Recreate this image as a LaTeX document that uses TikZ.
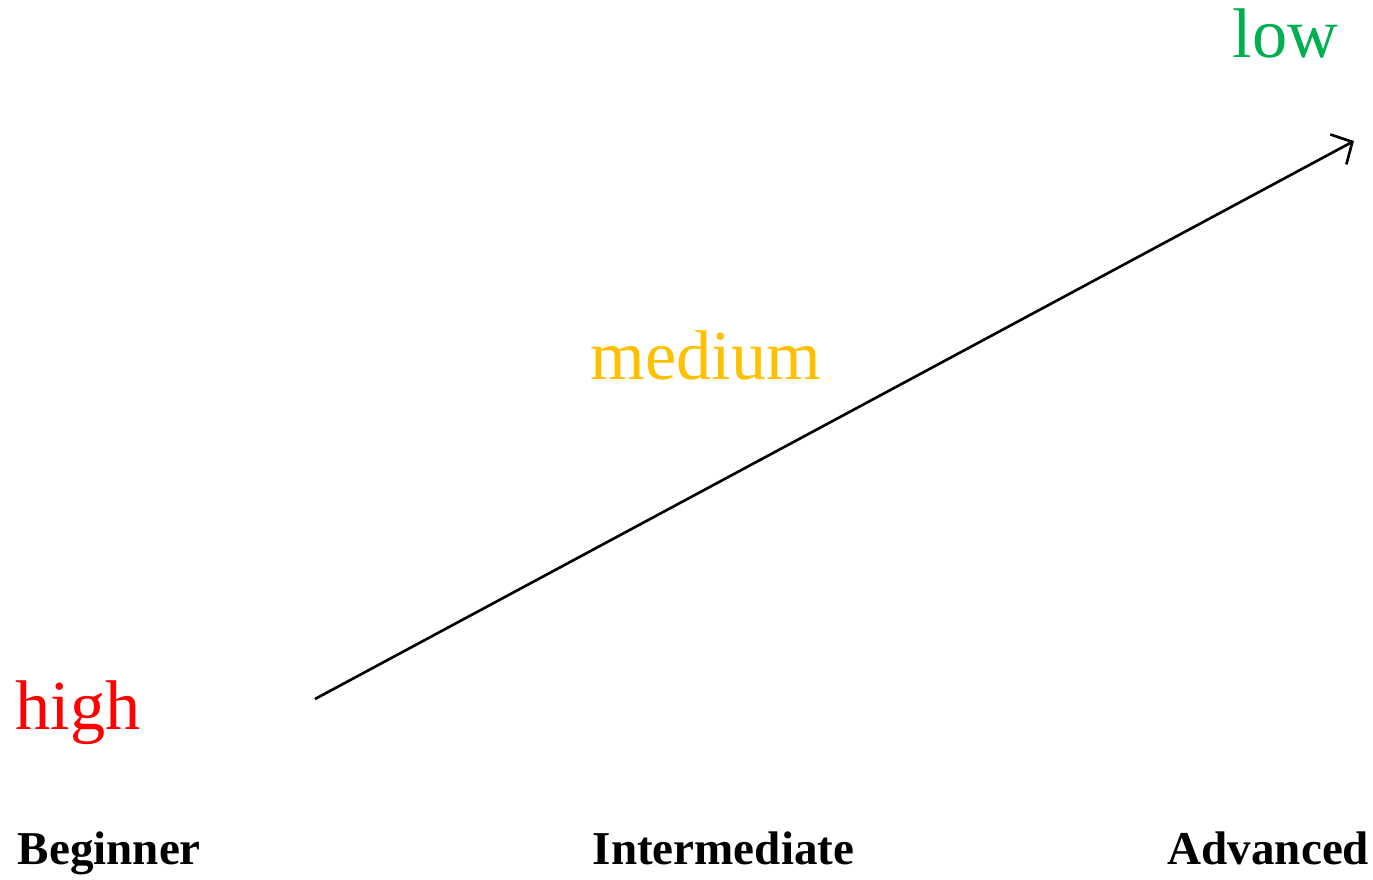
\documentclass[tikz,border=0pt]{standalone}
\usepackage{fontspec}
\setmainfont{Liberation Serif}
\usepackage{tikz}
\usetikzlibrary{arrows.meta}
\definecolor{levelred}{RGB}{255, 0, 0}
\definecolor{levelyellow}{RGB}{255, 192, 0}
\definecolor{levelgreen}{RGB}{0, 176, 80}

\begin{document}
\begin{tikzpicture}[scale=1,
  level/.style={inner sep=0, anchor=base west, font=\fontsize{20}{24}\selectfont},
  stage/.style={inner sep=0, anchor=base west, font=\fontsize{13.4}{16}\selectfont\bfseries}]

  \path[use as bounding box] (0, 0) rectangle (13.73, 8.8);

  \node[level, levelred]    (high)   at (0.15, 1.50) {high};
  \node[level, levelyellow] (medium) at (5.90, 5.00) {medium};
  \node[level, levelgreen]  (low)    at (12.32, 8.22) {low};

  \node[stage] (beginner)     at (0.17, 0.15) {Beginner};
  \node[stage] (intermediate) at (5.92, 0.15) {Intermediate};
  \node[stage] (advanced)     at (11.67, 0.15) {Advanced};

  \coordinate (start) at (3.15, 1.81);
  \coordinate (end)   at (13.54, 7.39);
  \draw[-{Straight Barb[length=1.6mm, width=3.4mm]}, line width=0.75] (start) -- (end);

\end{tikzpicture}
\end{document}
